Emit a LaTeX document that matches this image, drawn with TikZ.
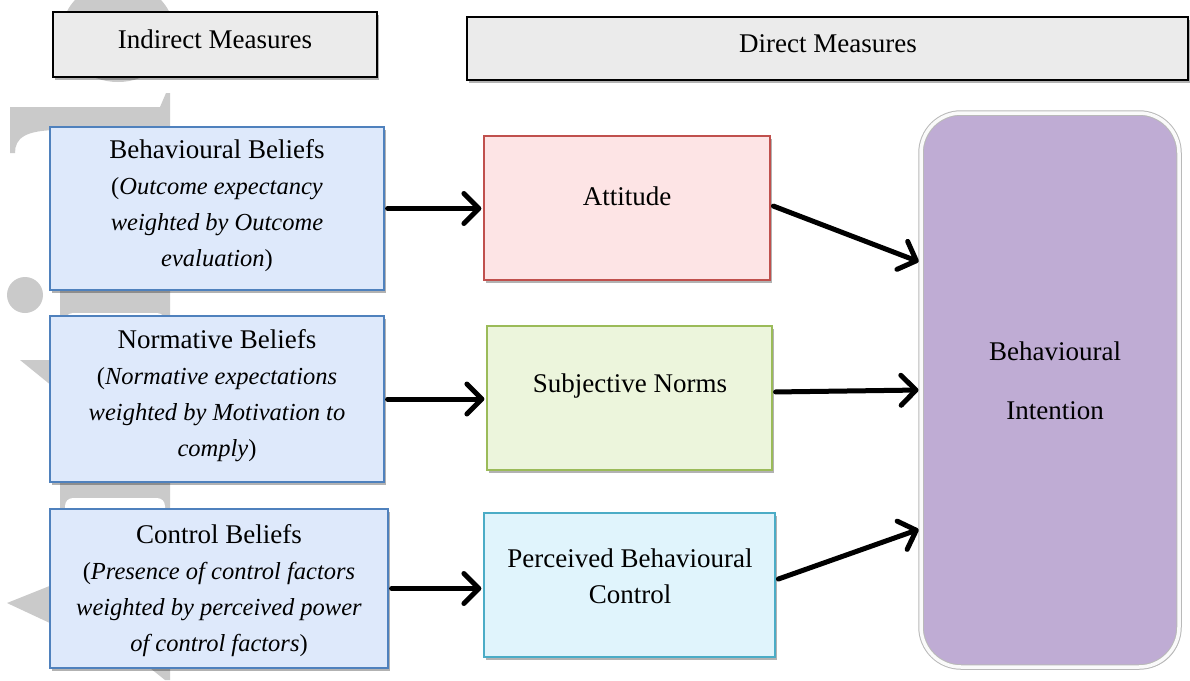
\documentclass[tikz,border=0pt]{standalone}
\usepackage{fontspec}
\setmainfont{Liberation Serif}
\usetikzlibrary{arrows.meta,shadows,calc}
\definecolor{hdrgray}{RGB}{235,235,235}
\definecolor{bluefill}{RGB}{222,233,251}
\definecolor{blueline}{RGB}{79,129,189}
\definecolor{pinkfill}{RGB}{253,228,229}
\definecolor{pinkline}{RGB}{192,80,77}
\definecolor{greenfill}{RGB}{236,245,220}
\definecolor{greenline}{RGB}{155,187,89}
\definecolor{cyanfill}{RGB}{224,244,252}
\definecolor{cyanline}{RGB}{75,172,198}
\definecolor{purplefill}{RGB}{191,172,212}
\definecolor{wmgray}{RGB}{202,202,202}
\newcommand\smallit{\fontsize{24.5}{36}\selectfont}
\newcommand\bigrm{\fontsize{27}{36}\selectfont}
\begin{document}
\begin{tikzpicture}[x=1pt,y=-1pt,
  font=\bigrm,
  box/.style={draw, rectangle, line width=1.2pt, inner sep=0pt,
    drop shadow={shadow xshift=2pt,shadow yshift=-3pt,opacity=0.3,fill=black}},
  hdr/.style={box, fill=hdrgray, draw=black, line width=1.5pt},
  bluebox/.style={box, fill=bluefill, draw=blueline},
  pinkbox/.style={box, fill=pinkfill, draw=pinkline},
  greenbox/.style={box, fill=greenfill, draw=greenline},
  cyanbox/.style={box, fill=cyanfill, draw=cyanline},
  txt/.style={align=center, inner sep=0pt},
  beliefs/.style={txt, font=\smallit},
  arr/.style={line width=5pt, line cap=round,
    -{Straight Barb[length=15pt,width=30pt,round]}, shorten <=3pt, shorten >=2pt}
]
\useasboundingbox[fill=white] (0,0) rectangle (1190,680);
% watermark
\fill[wmgray] (118,32) ellipse [x radius=56, y radius=50];
\fill[wmgray] (10,153) -- (10,107) -- (160,107) -- (166,93) -- (170,93) -- (170,668)
  -- (60,668) -- (60,130) .. controls (25,130) and (15,138) .. (15,153) -- cycle;
\fill[white, rounded corners=8pt] (65,313) rectangle (165,360);
\fill[white, rounded corners=8pt] (65,498) rectangle (165,540);
\fill[wmgray] (25,295) circle [radius=18];
\fill[wmgray] (20,360) -- (52,360) -- (52,386) -- cycle;
\fill[wmgray] (7,603) -- (52,585) -- (52,624) -- cycle;
\fill[wmgray] (150,668) -- (170,668) -- (170,680) -- (165,680) -- cycle;

% header boxes
\node[hdr, minimum width=324pt, minimum height=65pt] (im) at (215,44.5) {};
\node[txt] (imt) at (215,39) {Indirect Measures};
\node[hdr, minimum width=721pt, minimum height=63pt] (dm) at (827.5,48.5) {};
\node[txt] (dmt) at (828,44) {Direct Measures};

% indirect
\node[bluebox, minimum width=334pt, minimum height=163pt] (bb) at (217,208.5) {};
\node[beliefs] (bbt) at (217,206) {{\bigrm Behavioural Beliefs}\\(\textit{Outcome expectancy}\\\textit{weighted by Outcome}\\\textit{evaluation})};
\node[bluebox, minimum width=334pt, minimum height=166pt] (nb) at (217,399) {};
\node[beliefs] (nbt) at (217,396) {{\bigrm Normative Beliefs}\\(\textit{Normative expectations}\\\textit{weighted by Motivation to}\\\textit{comply})};
\node[bluebox, minimum width=338pt, minimum height=159pt] (cb) at (219,588.5) {};
\node[beliefs] (cbt) at (219,591) {{\bigrm Control Beliefs}\\(\textit{Presence of control factors}\\\textit{weighted by perceived power}\\\textit{of control factors})};

% direct
\node[pinkbox, minimum width=286pt, minimum height=144pt] (att) at (627,208) {};
\node[txt] (attt) at (627,196) {Attitude};
\node[greenbox, minimum width=285pt, minimum height=144pt] (sn) at (629.5,398) {};
\node[txt] (snt) at (630,386) {Subjective Norms};
\node[cyanbox, minimum width=291pt, minimum height=144pt] (pbc) at (629.5,585) {};
\node[txt] (pbct) at (630,576) {Perceived Behavioural\\Control};

% behavioural intention
\node[rectangle, rounded corners=40pt, fill=purplefill, draw=gray!55, line width=1pt,
  double=white!96!gray, double distance=3.5pt, minimum width=258pt, minimum height=554pt,
  drop shadow={shadow xshift=2pt,shadow yshift=-2pt,opacity=0.25,fill=black}] (bi) at (1050,390) {};
\node[txt] (bit) at (1055,381) {Behavioural\\[23pt]Intention};

% arrows
\draw[arr] (bb.east) -- (bb.east -| att.west);
\draw[arr] (nb.east) -- (nb.east -| sn.west);
\draw[arr] (cb.east) -- (cb.east -| pbc.west);
\draw[arr] ($(att.east)+(0,-3)$) -- ($(bi.north west)!0.27!(bi.south west)$);
\draw[arr] ($(sn.east)+(0,-6)$) -- (bi.west);
\draw[arr] ($(pbc.east)+(0,-5)$) -- ($(bi.north west)!0.75!(bi.south west)$);
\end{tikzpicture}
\end{document}
